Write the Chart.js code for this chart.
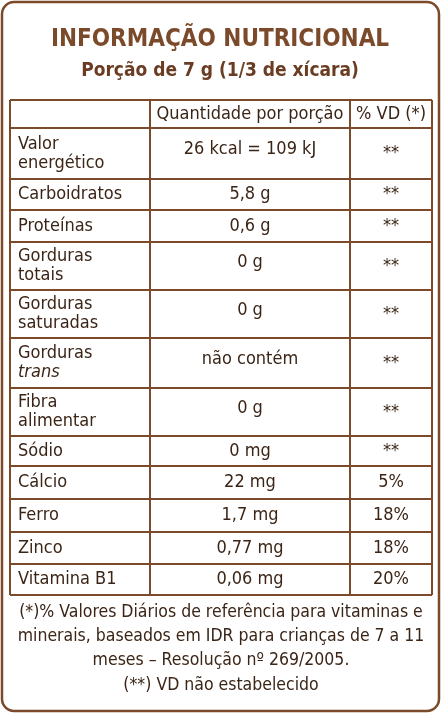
<!DOCTYPE html>
<html><head><meta charset="utf-8">
<script src="https://cdn.jsdelivr.net/npm/chart.js@4"></script>
<style>body{margin:0;background:#fff}canvas{display:block}</style>
</head><body>
<canvas id="c" width="441" height="713"></canvas>
<script>
const title = "INFORMAÇÃO NUTRICIONAL";
const subtitle = "Porção de 7 g (1/3 de xícara)";
const headers = ["", "Quantidade por porção", "% VD (*)"];
const nutrients = [["Valor","energético"],["Carboidratos"],["Proteínas"],["Gorduras","totais"],["Gorduras","saturadas"],["Gorduras","_trans"],["Fibra","alimentar"],["Sódio"],["Cálcio"],["Ferro"],["Zinco"],["Vitamina B1"]];
const amounts = ["26 kcal = 109 kJ","5,8 g","0,6 g","0 g","0 g","não contém","0 g","0 mg","22 mg","1,7 mg","0,77 mg","0,06 mg"];
const vd = ["**","**","**","**","**","**","**","**","5%","18%","18%","20%"];
const rowEdges = [100,128,179,210,242,290,338,388,436,466,499,532,564,595];
const colEdges = [10,150,350,432];
const footnote = ["(*)% Valores Diários de referência para vitaminas e","minerais, baseados em IDR para crianças de 7 a 11","meses – Resolução nº 269/2005.","(**) VD não estabelecido"];
const footY = [612,636,660,685];

const BROWN="#7b4a2b", TEXT="#3b2517", F="'DejaVu Sans Condensed','DejaVu Sans',sans-serif";
const tablePlugin={id:'table',afterDraw(ch){
 const c=ch.ctx,X=v=>ch.scales.x.getPixelForValue(v),Y=v=>ch.scales.y.getPixelForValue(v);
 c.save();
 c.strokeStyle=BROWN;c.lineWidth=2.5;c.beginPath();c.roundRect(X(2),Y(2),X(439)-X(2),Y(711)-Y(2),12);c.stroke();
 c.textAlign='center';c.textBaseline='middle';c.fillStyle=BROWN;
 c.font="bold 24px "+F;c.fillText(title,X(220),Y(40));
 c.font="bold 19px "+F;c.fillStyle="#6a3c22";c.fillText(subtitle,X(220),Y(71));
 c.lineWidth=2;
 rowEdges.forEach(y=>{c.beginPath();c.moveTo(X(colEdges[0]),Y(y));c.lineTo(X(colEdges[3]),Y(y));c.stroke();});
 colEdges.forEach(x=>{c.beginPath();c.moveTo(X(x),Y(rowEdges[0]));c.lineTo(X(x),Y(rowEdges[rowEdges.length-1]));c.stroke();});
 c.fillStyle=TEXT;c.font="18px "+F;
 const cx1=(colEdges[1]+colEdges[2])/2,cx2=(colEdges[2]+colEdges[3])/2;
 const hy=(rowEdges[0]+rowEdges[1])/2;
 c.fillText(headers[1],X(cx1),Y(hy));c.fillText(headers[2],X(cx2),Y(hy));
 nutrients.forEach((lab,i)=>{
  const t=rowEdges[i+1],b=rowEdges[i+2],m=(t+b)/2;
  c.textAlign='left';
  lab.forEach((l,k)=>{const it=l.startsWith('_');c.font=(it?"italic ":"")+"18px "+F;
   const y=lab.length===1?m:m+(k-0.5)*19;c.fillText(it?l.slice(1):l,X(18),Y(y));});
  c.font="18px "+F;c.textAlign='center';
  const vy=lab.length===1?m:m-4;
  c.fillText(amounts[i],X(cx1),Y(vy));c.fillText(vd[i],X(cx2),Y(m));
 });
 c.font="17.5px "+F;
 footnote.forEach((l,i)=>c.fillText(l,X(221),Y(footY[i])));
 c.restore();}};
new Chart(document.getElementById('c'),{type:'scatter',data:{datasets:[{data:[]}]},
 options:{responsive:false,animation:false,devicePixelRatio:1,layout:{padding:0},
 plugins:{legend:{display:false},tooltip:{enabled:false}},
 scales:{x:{type:'linear',min:0,max:441,display:false},y:{type:'linear',min:0,max:713,reverse:true,display:false}}},
 plugins:[tablePlugin]});
</script></body></html>
